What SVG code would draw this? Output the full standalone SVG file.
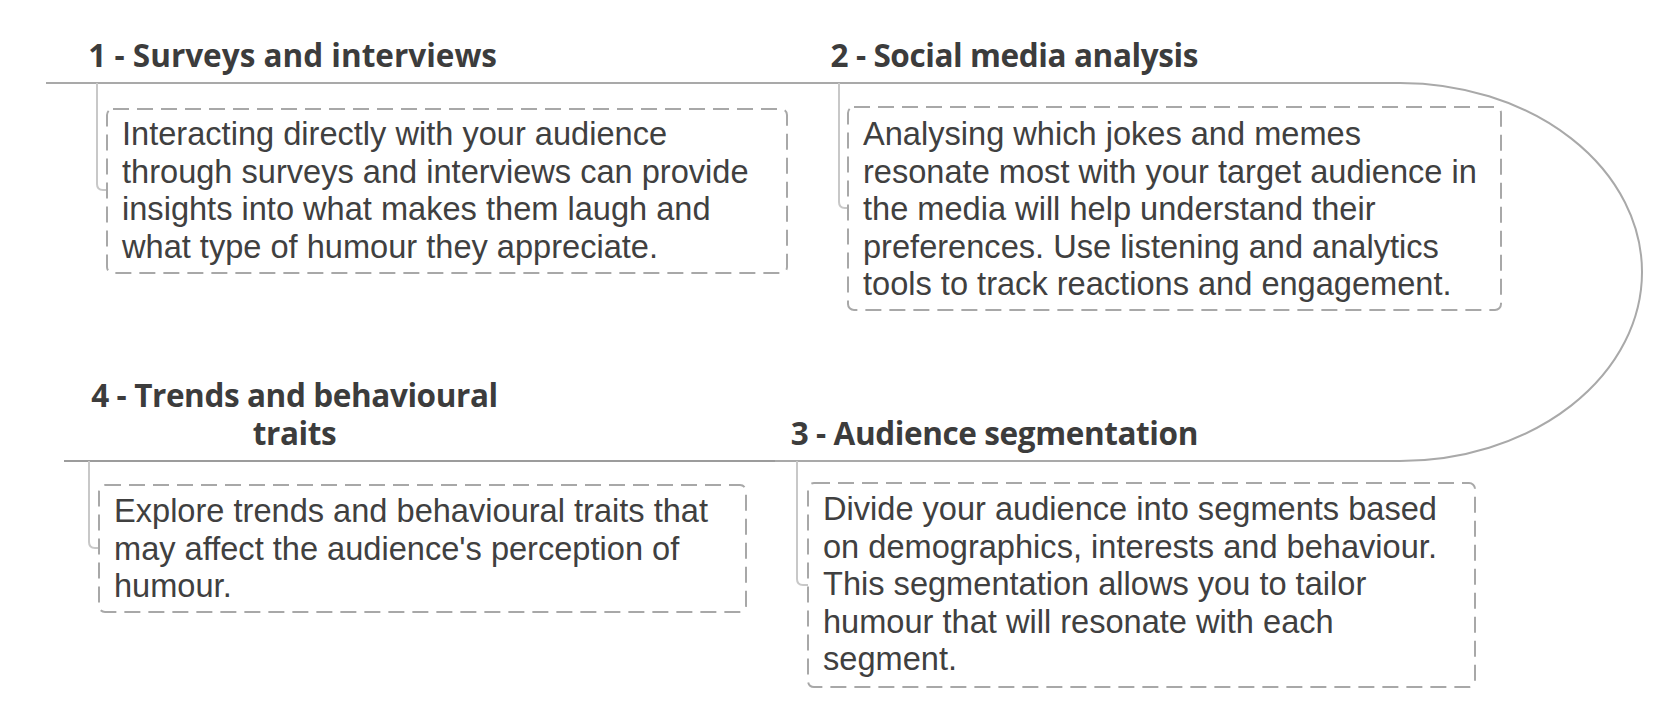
<svg xmlns="http://www.w3.org/2000/svg" width="1674" height="728" viewBox="0 0 1674 728">
<style>
.head{font-family:"Open Sans","Liberation Sans",sans-serif;font-weight:700;font-size:31.5px;letter-spacing:-0.4px;fill:#3c3c3c}
.h1{letter-spacing:0px}
.body{font-family:"Liberation Sans",Arial,sans-serif;font-size:32.6px;fill:#404040}
.box{fill:#ffffff;stroke:#a8a8a8;stroke-width:2;stroke-dasharray:16 8}
.main{fill:none;stroke:#a9a9a9;stroke-width:2}
.main4{fill:none;stroke:#9c9c9c;stroke-width:2}
.conn{fill:none;stroke:#c8c8c8;stroke-width:2}
</style>
<rect width="1674" height="728" fill="#ffffff"/>
<g id="connectors">
  <path class="main" d="M46,83 H1400 A242,189 0 0 1 1400,461 H775"/>
  <path class="main4" d="M775,461 H64"/>
  <path class="conn" d="M97,83 V184 Q97,190 103,190 H107"/>
  <path class="conn" d="M839,83 V202 Q839,208 845,208 H848"/>
  <path class="conn" d="M797,461 V579 Q797,585 803,585 H808"/>
  <path class="conn" d="M89,461 V542 Q89,548 95,548 H99"/>
</g>
<g id="node1">
  <text class="head h1" x="497" y="67" text-anchor="end">1 - Surveys and interviews</text>
  <rect class="box" x="107" y="109" width="680" height="164" rx="6"/>
  <text class="body" x="122" y="145">Interacting directly with your audience</text>
  <text class="body" x="122" y="182.5">through surveys and interviews can provide</text>
  <text class="body" x="122" y="220">insights into what makes them laugh and</text>
  <text class="body" x="122" y="257.5">what type of humour they appreciate.</text>
</g>
<g id="node2">
  <text class="head" x="1198" y="67" text-anchor="end">2 - Social media analysis</text>
  <rect class="box" x="848" y="107" width="653" height="203" rx="6"/>
  <text class="body" x="863" y="145">Analysing which jokes and memes</text>
  <text class="body" x="863" y="182.5">resonate most with your target audience in</text>
  <text class="body" x="863" y="220">the media will help understand their</text>
  <text class="body" x="863" y="257.5">preferences. Use listening and analytics</text>
  <text class="body" x="863" y="295">tools to track reactions and engagement.</text>
</g>
<g id="node3">
  <text class="head" x="1198" y="445" text-anchor="end">3 - Audience segmentation</text>
  <rect class="box" x="808" y="483" width="667" height="204" rx="6"/>
  <text class="body" x="823" y="520">Divide your audience into segments based</text>
  <text class="body" x="823" y="557.5">on demographics, interests and behaviour.</text>
  <text class="body" x="823" y="595">This segmentation allows you to tailor</text>
  <text class="body" x="823" y="632.5">humour that will resonate with each</text>
  <text class="body" x="823" y="670">segment.</text>
</g>
<g id="node4">
  <text class="head" text-anchor="middle"><tspan x="294.5" y="407">4 - Trends and behavioural</tspan><tspan x="294.5" y="445">traits</tspan></text>
  <rect class="box" x="99" y="485" width="647" height="127" rx="6"/>
  <text class="body" x="114" y="522">Explore trends and behavioural traits that</text>
  <text class="body" x="114" y="559.5">may affect the audience's perception of</text>
  <text class="body" x="114" y="597">humour.</text>
</g>
</svg>
